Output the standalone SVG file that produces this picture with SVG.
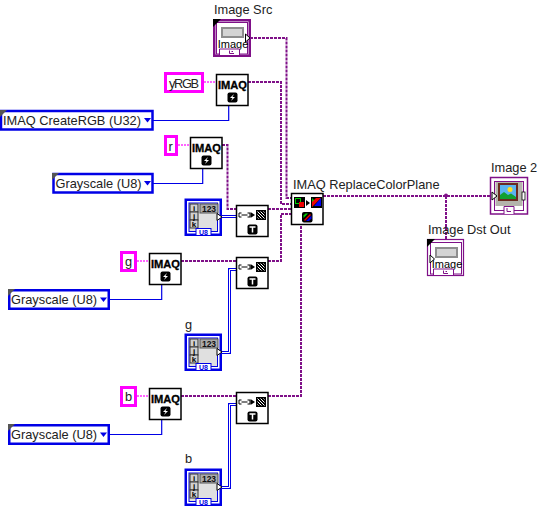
<svg xmlns="http://www.w3.org/2000/svg" width="541" height="506" viewBox="0 0 541 506">
<style>
text{font-family:"Liberation Sans",Arial,sans-serif;fill:#222}
.lbl{font-size:12.800px}
.img{fill:none;stroke:#7f1088;stroke-width:2;stroke-dasharray:3 1}
.str{fill:none;stroke:#ff33ff;stroke-width:1.5;stroke-dasharray:2 1}
.enw{fill:none;stroke:#0000e6;stroke-width:1.200}
.u8a{fill:none;stroke:#0000e6;stroke-width:3}
.u8b{fill:none;stroke:#fff;stroke-width:1}
.vi{fill:#fff;stroke:#000;stroke-width:1.5}
.sc{fill:#fff;stroke:#f0f;stroke-width:3}
.en{fill:#fff;stroke:#0000e6;stroke-width:2.500}
.ic{font-weight:bold;font-size:11.500px;fill:#000;stroke:#000;stroke-width:.35}
</style>
<defs>
<g id="imaq">
<rect class="vi" x="0" y="0" width="31.500" height="31"/>
<text class="ic" x="1.500" y="14" textLength="29" lengthAdjust="spacingAndGlyphs">IMAQ</text>
<rect x="11" y="18" width="10" height="10" rx="2" fill="#000"/>
<path d="M17.500 19.500L13.500 23.500H16L14.500 26.500L18.500 22.500H16Z" fill="#fff"/>
</g>
<g id="conv">
<rect class="vi" x="0" y="0" width="31.500" height="31"/>
<path d="M5 7.500H2.500V11.500H5M5 9.500H11M11 7.500H13.500V11.500H11" fill="none" stroke="#000"/>
<path d="M14 6.500L18.500 9.500L14 12.500Z" fill="#000"/>
<rect x="19.500" y="4.500" width="10" height="10" fill="#000"/>
<path d="M21 6L28 13M21 9L25 13M24 6L28 10M21 12L22 13M27 6L28 7" stroke="#fff" fill="none"/>
<rect x="11" y="19" width="10" height="10" rx="2" fill="#000"/>
<path d="M13 21.500H19M16 21.500V27" stroke="#fff" stroke-width="1.500" fill="none"/>
</g>
<g id="num">
<rect x="1.250" y="1.250" width="35" height="35" fill="#fff" stroke="#0000e6" stroke-width="2.500"/>
<rect x="4.500" y="4.500" width="28.500" height="28.500" fill="#e0e0e0" stroke="#0000e6" stroke-width="1"/>
<rect x="5.500" y="5.500" width="8" height="8" fill="#d0d0d0" stroke="#333"/>
<rect x="5.500" y="13.500" width="8" height="8" fill="#d0d0d0" stroke="#333"/>
<rect x="5.500" y="21.500" width="8" height="8" fill="#d0d0d0" stroke="#333"/>
<text x="9.500" y="12.500" text-anchor="middle" font-size="8" style="font-weight:bold;fill:#000">i</text>
<text x="9.500" y="20.500" text-anchor="middle" font-size="8" style="font-weight:bold;fill:#000">j</text>
<text x="9.500" y="28.500" text-anchor="middle" font-size="8" style="font-weight:bold;fill:#000">k</text>
<rect x="15.500" y="5.500" width="18" height="9" fill="#aaa" stroke="#555"/>
<text x="24.500" y="13" text-anchor="middle" font-size="8.500" style="font-weight:bold;fill:#111">123</text>
<rect x="11.500" y="30" width="15" height="7" fill="#fff" stroke="#0000e6"/>
<text x="19" y="36.500" text-anchor="middle" font-size="7" style="font-weight:bold;fill:#0000e6">U8</text>
<path d="M32.500 15L37.500 18.500L32.500 22Z" fill="#fff" stroke="#000"/>
</g>
<g id="imgc">
<rect x="3.500" y="3.500" width="31" height="31.500" fill="#fff" stroke="#7f1088"/>
<rect x="8" y="8" width="23" height="11" fill="#8e8e8e"/>
<rect x="10" y="10" width="19" height="7" fill="#d4d4d4"/>
<text x="20" y="29" text-anchor="middle" font-size="11" style="fill:#000">Image</text>
<path d="M6.500 36V30H26.500V36" fill="#fff" stroke="#7f1088"/>
<path d="M16.500 31.500V34.500H21M18.500 32.500H20" fill="none" stroke="#7f1088"/>
</g>
<g id="en-tri"><path d="M0 0H7L0 7Z" fill="#555"/></g>
<path id="drop" d="M0 0H7L3.500 4.500Z" fill="#0000e6"/>
</defs>

<g id="connectors">
<path class="img" d="M250 38H286.500V198H291"/>
<path class="img" d="M248 82H281V204H291"/>
<path class="img" d="M222 145H227.500V209H236"/>
<path class="img" d="M268 209H291"/>
<path class="img" d="M181 261H236"/>
<path class="img" d="M268 261H281V214H291"/>
<path class="img" d="M181 396H236"/>
<path class="img" d="M268 396H301V225"/>
<path class="img" d="M323 196H490"/>
<path class="img" d="M446 196V239"/>
<circle cx="446" cy="195.500" r="2" fill="#7f1088"/>
<path class="str" d="M204 82H216"/>
<path class="str" d="M178 145H190"/>
<path class="str" d="M137 261H149"/>
<path class="str" d="M137 396H149"/>
<path class="enw" d="M153 120.500H228.700V105"/>
<path class="enw" d="M153 183.500H202.700V168"/>
<path class="enw" d="M110 299.500H161.700V284"/>
<path class="enw" d="M110 434.500H161.700V419"/>
<path class="u8a" d="M221 216.500H236"/><path class="u8b" d="M221 216.500H236"/>
<path class="u8a" d="M220 352.500H229.500V269.500H236"/><path class="u8b" d="M220 352.500H229.500V269.500H236"/>
<path class="u8a" d="M220 487.500H229.500V404.500H236"/><path class="u8b" d="M220 487.500H229.500V404.500H236"/>
</g>

<g id="image-src">
<text class="lbl" x="214" y="14">Image Src</text>
<rect x="214.250" y="20.250" width="35.500" height="35.500" fill="#fff" stroke="#7f1088" stroke-width="2.500"/>
<use href="#imgc" x="213" y="19"/>
<path d="M213 19H221L213 27Z" fill="#000"/>
<path d="M245.500 34L250 38L245.500 42Z" fill="#fff" stroke="#000"/>
</g>
<g id="string-yrgb"><rect class="sc" x="165.500" y="73.500" width="37" height="18"/><text class="lbl" x="169" y="87.500" textLength="30">yRGB</text></g>
<g id="imaq-yrgb"><use href="#imaq" x="216.500" y="74.500"/></g>
<g id="enum-creatergb">
<rect class="en" x="1" y="111" width="151.500" height="18.500"/>
<use href="#en-tri" x="0" y="110"/>
<text class="lbl" x="3" y="125">IMAQ CreateRGB (U32)</text>
<use href="#drop" x="144" y="118"/>
</g>
<g id="string-r"><rect class="sc" x="165.500" y="136.500" width="11" height="18"/><text class="lbl" x="168.500" y="150.500">r</text></g>
<g id="imaq-r"><use href="#imaq" x="190.500" y="137.500"/></g>
<g id="enum-gray-r">
<rect class="en" x="53.500" y="174" width="99" height="18.500"/>
<use href="#en-tri" x="52" y="173"/>
<text class="lbl" x="55.500" y="188">Grayscale (U8)</text>
<use href="#drop" x="144" y="181"/>
</g>
<g id="num-r"><use href="#num" x="184.500" y="198.500"/></g>
<g id="conv-r"><use href="#conv" x="236.500" y="205.500"/></g>
<g id="replace-color-plane">
<text class="lbl" x="293" y="189">IMAQ ReplaceColorPlane</text>
<rect class="vi" x="291.500" y="193.500" width="31.500" height="31"/>
<rect x="294" y="197" width="11" height="11" fill="#000"/>
<rect x="295.500" y="198.500" width="5" height="5" fill="none" stroke="#0c0"/>
<rect x="299" y="202" width="5" height="5" fill="#e00"/>
<path d="M306 200L310 203L306 206Z" fill="#000"/>
<rect x="311" y="197" width="11" height="11" fill="#000"/>
<path d="M312 207L316 202L312 198Z" fill="#0c0"/><path d="M312 207L321 198H316L312 202Z" fill="#e00"/><path d="M321 198V206H314Z" fill="#00e"/>
<rect x="302" y="212" width="10.500" height="10.500" rx="2" fill="#000"/>
<path d="M303.500 218L308 213.500H305.500L303.500 215.500Z" fill="#0c0"/><path d="M304 220L310 214L311 215L305 221Z" fill="#e00"/><path d="M306 221L311.500 215.500V218.500L309 221Z" fill="#00e"/>
</g>
<g id="image-2">
<text class="lbl" x="491" y="172">Image 2</text>
<rect x="490.500" y="177.500" width="37" height="36.500" fill="#fff" stroke="#7f1088" stroke-width="1.500"/>
<rect x="494.500" y="181.500" width="29" height="29" fill="#fff" stroke="#7f1088"/>
<rect x="495.500" y="182" width="27" height="24" fill="#b4b4ac"/>
<rect x="498" y="183" width="20" height="18" fill="#6b2a20"/>
<rect x="500" y="185" width="16" height="14" fill="#5ab4f0"/>
<circle cx="510" cy="189.500" r="2.500" fill="#ffe020"/>
<path d="M500 199V195L504 192L508 195L511 193.500L516 197V199Z" fill="#10a030"/>
<path d="M504 214V206.500H514V214" fill="#fff" stroke="#7f1088"/>
<path d="M507 208V211.500H511" fill="none" stroke="#7f1088"/>
<path d="M492 192L497 196L492 200Z" fill="#fff" stroke="#000"/>
<rect x="522" y="192" width="3" height="8" fill="#fff" stroke="#000" stroke-width=".8"/>
</g>
<g id="image-dst-out">
<text class="lbl" x="428" y="234">Image Dst Out</text>
<rect x="427.500" y="239.500" width="36" height="36" fill="#fff" stroke="#7f1088" stroke-width="1.200"/>
<use href="#imgc" x="427" y="239"/>
<path d="M427 239H435L427 247Z" fill="#000"/>
<path d="M430 255L434.500 259L430 263Z" fill="#fff" stroke="#000"/>
</g>
<g id="string-g"><rect class="sc" x="121.500" y="252.500" width="14" height="18"/><text class="lbl" x="125" y="266">g</text></g>
<g id="imaq-g"><use href="#imaq" x="149.500" y="253.500"/></g>
<g id="conv-g"><use href="#conv" x="236.500" y="257.500"/></g>
<g id="enum-gray-g">
<rect class="en" x="9.250" y="290.250" width="99.500" height="18.500"/>
<use href="#en-tri" x="8" y="289"/>
<text class="lbl" x="11" y="304">Grayscale (U8)</text>
<use href="#drop" x="100" y="297.500"/>
</g>
<g id="num-g"><text class="lbl" x="185" y="329">g</text><use href="#num" x="184.500" y="333.500"/></g>
<g id="string-b"><rect class="sc" x="121.500" y="387.500" width="14" height="18"/><text class="lbl" x="125" y="401">b</text></g>
<g id="imaq-b"><use href="#imaq" x="149.500" y="388.500"/></g>
<g id="conv-b"><use href="#conv" x="236.500" y="392.500"/></g>
<g id="enum-gray-b">
<rect class="en" x="9.250" y="425.250" width="99.500" height="18.500"/>
<use href="#en-tri" x="8" y="424"/>
<text class="lbl" x="11" y="439">Grayscale (U8)</text>
<use href="#drop" x="100" y="432.500"/>
</g>
<g id="num-b"><text class="lbl" x="185" y="463">b</text><use href="#num" x="184.500" y="468.500"/></g>
</svg>
